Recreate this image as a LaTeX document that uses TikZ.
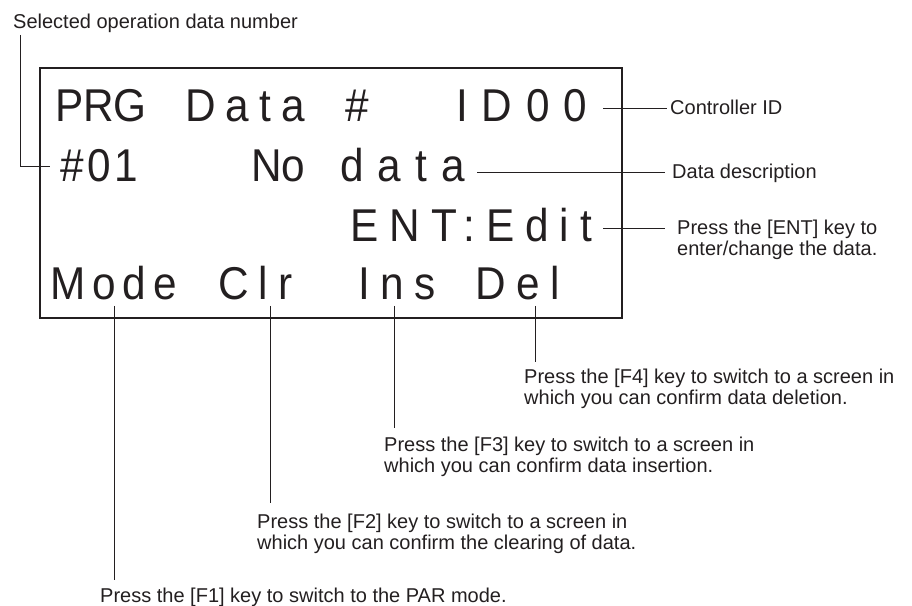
\documentclass[tikz,border=0pt]{standalone}
\usepackage{fontspec}
\setmainfont{Liberation Sans}
\newfontfamily\lcdfont{Liberation Sans}[FakeStretch=0.92]
\usetikzlibrary{calc}
\definecolor{ink}{RGB}{35,31,32}
\begin{document}
\begin{tikzpicture}[x=1pt,y=1pt,
  every node/.style={text=ink},
  lcd/.style={font={\lcdfont\fontsize{46}{50}\selectfont\addfontfeature{LetterSpace=#1}}, inner sep=0pt, anchor=base west},
  lcd/.default=22,
  lab/.style={font=\fontsize{20}{21.5}\selectfont, inner sep=0pt, align=left, anchor=north west},
  lab1/.style={font=\fontsize{20}{21.5}\selectfont, inner sep=0pt, anchor=base west},
  lead/.style={draw=ink, line width=0.8pt},
  frame/.style={draw=ink, line width=1.7pt, inner sep=0pt, minimum width=582pt, minimum height=250pt}]
\useasboundingbox (0,0) rectangle (912,605);

% display frame
\node[frame] (screen) at (331,412) {};

% display text
\node[lcd=0]  (prg)  at (55,483)  {PRG};
\node[lcd=22] (datah) at (185,483) {Data};
\node[lcd=0]  (hash) at (345,483) {\#};
\node[lcd=30] (id)   at (456,483) {ID00};
\node[lcd=8]  (num)  at (60,423)  {\#01};
\node[lcd=0]  (no)   at (251,423) {No};
\node[lcd=31] (data) at (340,423) {data};
\node[lcd=24] (edit) at (350,363) {ENT:Edit};
\node[lcd=15] (mode) at (50,305)  {Mode};
\node[lcd=22] (clr)  at (218,305) {Clr};
\node[lcd=23] (ins)  at (358,305) {Ins};
\node[lcd=23] (del)  at (475,305) {Del};

% labels
\node[lab1] (sel)  at (13,576)  {Selected operation data number};
\node[lab1] (ctrl) at (670,490) {Controller ID};
\node[lab1] (desc) at (672,426) {Data description};
\node[lab]  (entl) at (677,385.6) {Press the [ENT] key to\\enter/change the data.};
\node[lab]  (f4)   at (524,236.6) {Press the [F4] key to switch to a screen in\\which you can confirm data deletion.};
\node[lab]  (f3)   at (384,168.6) {Press the [F3] key to switch to a screen in\\which you can confirm data insertion.};
\node[lab]  (f2)   at (257,91.6)  {Press the [F2] key to switch to a screen in\\which you can confirm the clearing of data.};
\node[lab1] (f1)   at (100,3)     {Press the [F1] key to switch to the PAR mode.};

% leader start points
\coordinate (pSel)  at ($(sel.base west)+(7,-6)$);
\coordinate (aID)   at (603,497);
\coordinate (aData) at (477,433);
\coordinate (aEdit) at (603,377);
\coordinate (aMode) at (114,299);
\coordinate (aClr)  at (270,299);
\coordinate (aIns)  at (394,299);
\coordinate (aDel)  at (535,299);

% leaders
\draw[lead] (pSel) |- ([xshift=-10pt]num.west);
\draw[lead,shorten >=3pt]  (aID)   -- (aID -| ctrl.west);
\draw[lead,shorten >=7pt]  (aData) -- (aData -| desc.west);
\draw[lead,shorten >=12pt] (aEdit) -- (aEdit -| entl.west);
\draw[lead,shorten >=7pt]  (aMode) -- (aMode |- f1.north);
\draw[lead,shorten >=10pt] (aClr)  -- (aClr |- f2.north);
\draw[lead,shorten >=8pt]  (aIns)  -- (aIns |- f3.north);
\draw[lead,shorten >=6pt]  (aDel)  -- (aDel |- f4.north);
\end{tikzpicture}
\end{document}
